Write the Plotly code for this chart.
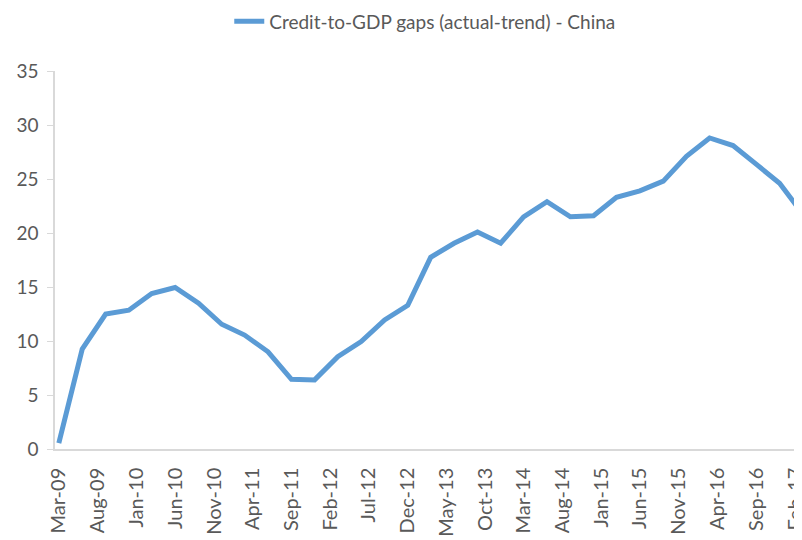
import plotly.graph_objects as go

dates = ["2009-03-01", "2009-06-01", "2009-09-01", "2009-12-01",
         "2010-03-01", "2010-06-01", "2010-09-01", "2010-12-01",
         "2011-03-01", "2011-06-01", "2011-09-01", "2011-12-01",
         "2012-03-01", "2012-06-01", "2012-09-01", "2012-12-01",
         "2013-03-01", "2013-06-01", "2013-09-01", "2013-12-01",
         "2014-03-01", "2014-06-01", "2014-09-01", "2014-12-01",
         "2015-03-01", "2015-06-01", "2015-09-01", "2015-12-01",
         "2016-03-01", "2016-06-01", "2016-09-01", "2016-12-01",
         "2017-03-01"]
gap = [0.55, 9.25, 12.5, 12.85, 14.4, 14.95, 13.5, 11.55, 10.55, 9.0, 6.45, 6.4,
       8.55, 9.95, 11.95, 13.3, 17.75, 19.05, 20.1, 19.05, 21.5, 22.9, 21.5, 21.6,
       23.3, 23.9, 24.8, 27.1, 28.8, 28.1, 26.35, 24.6, 21.8]

tick_dates = ["2009-03-01", "2009-08-01", "2010-01-01", "2010-06-01", "2010-11-01",
              "2011-04-01", "2011-09-01", "2012-02-01", "2012-07-01", "2012-12-01",
              "2013-05-01", "2013-10-01", "2014-03-01", "2014-08-01", "2015-01-01",
              "2015-06-01", "2015-11-01", "2016-04-01", "2016-09-01", "2017-02-01"]
tick_labels = ["Mar-09", "Aug-09", "Jan-10", "Jun-10", "Nov-10", "Apr-11", "Sep-11",
               "Feb-12", "Jul-12", "Dec-12", "May-13", "Oct-13", "Mar-14", "Aug-14",
               "Jan-15", "Jun-15", "Nov-15", "Apr-16", "Sep-16", "Feb-17"]
y_ticks = [0, 5, 10, 15, 20, 25, 30, 35]

series_name = "Credit-to-GDP gaps (actual-trend) - China"

fig = go.Figure()
fig.add_trace(go.Scatter(
    x=dates, y=gap, mode="lines", name=series_name,
    line=dict(color="#5B9BD5", width=5),
))

font_family = "Lato, 'Open Sans', sans-serif"
grey = "#595959"

# page body keeps an 8px margin, so the figure is sized to fit the window
fig.update_layout(
    width=794, height=532,
    margin=dict(l=47, r=0, t=63, b=91),
    paper_bgcolor="white", plot_bgcolor="white",
    font=dict(family=font_family, color=grey),
    showlegend=True,
    legend=dict(
        orientation="h", x=0.495, xanchor="center",
        yref="container", y=0.975, yanchor="middle",
        font=dict(size=19, color=grey, family=font_family),
        bgcolor="rgba(0,0,0,0)",
    ),
    xaxis=dict(
        type="date",
        range=["2009-02-14", "2017-02-27"],
        tickmode="array", tickvals=tick_dates, ticktext=tick_labels,
        tickangle=-90, tickfont=dict(size=20, color=grey),
        showgrid=False, zeroline=False,
        showline=True, linecolor="#D9D9D9", linewidth=1.5,
        ticks="", ticklabelstandoff=9,
        automargin=False, ticklabeloverflow="allow",
    ),
    yaxis=dict(
        range=[0, 35], tickmode="array", tickvals=y_ticks,
        tickfont=dict(size=19, color=grey),
        showgrid=False, zeroline=False,
        showline=True, linecolor="#D9D9D9", linewidth=1.5,
        ticks="outside", ticklen=6, tickcolor="#D9D9D9",
        ticklabelstandoff=5, automargin=False,
    ),
)

fig.write_html("out.html")
